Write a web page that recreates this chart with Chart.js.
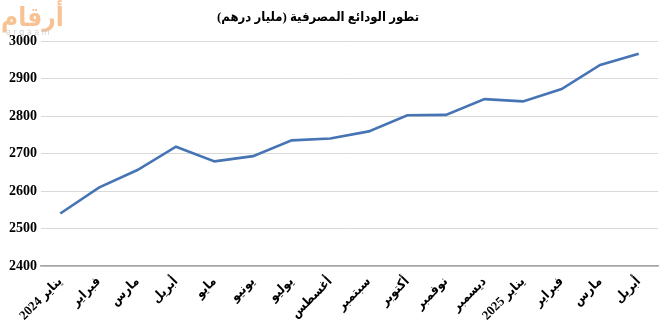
<!DOCTYPE html>
<html>
<head>
<meta charset="utf-8">
<script src="https://cdn.jsdelivr.net/npm/chart.js@4"></script>
<style>
  html, body { margin: 0; padding: 0; background: #fff; }
  #wrap { width: 665px; height: 322px; }
  canvas { direction: rtl; }
</style>
</head>
<body>
<div id="wrap"><canvas id="grafico"></canvas></div>
<script>
// --- Dados do gráfico ---
const titulo = 'تطور الودائع المصرفية (مليار درهم)';
const meses = ['يناير 2024', 'فبراير', 'مارس', 'أبريل', 'مايو', 'يونيو', 'يوليو', 'أغسطس',
  'سبتمبر', 'أكتوبر', 'نوفمبر', 'ديسمبر', 'يناير 2025', 'فبراير', 'مارس', 'أبريل'];
const depositos = [2540, 2609, 2656, 2718, 2679, 2693, 2735, 2740, 2759, 2802, 2803, 2845, 2839, 2872, 2936, 2966];
const eixoY = { min: 2400, max: 3000, passo: 100 };

const fonteSerif = "'Liberation Serif', 'DejaVu Sans Condensed', 'DejaVu Sans', serif";

// Título e logotipo desenhados direto no canvas
const pluginTextos = {
  id: 'textos',
  afterDraw(chart) {
    const ctx = chart.ctx;
    ctx.save();
    // logotipo
    ctx.globalAlpha = 0.55;
    ctx.fillStyle = '#f0923c';
    ctx.font = "bold 26px 'DejaVu Sans Condensed', 'DejaVu Sans', sans-serif";
    ctx.textAlign = 'left';
    ctx.textBaseline = 'alphabetic';
    ctx.fillText('أرقام', 1, 26);
    ctx.globalAlpha = 0.8;
    ctx.fillStyle = '#c8c8c8';
    ctx.font = "8px 'DejaVu Sans', sans-serif";
    ctx.fillText('a r g a a m', 6, 35);
    ctx.globalAlpha = 1;
    // título
    ctx.fillStyle = '#000';
    ctx.font = 'bold 13px ' + fonteSerif;
    ctx.textAlign = 'center';
    ctx.textBaseline = 'middle';
    ctx.fillText(titulo, 318, 18);
    ctx.restore();
  }
};

new Chart(document.getElementById('grafico'), {
  type: 'line',
  data: {
    labels: meses,
    datasets: [{
      data: depositos,
      borderColor: '#4674b4',
      borderWidth: 2.6,
      pointRadius: 0,
      tension: 0,
      fill: false
    }]
  },
  options: {
    responsive: true,
    maintainAspectRatio: false,
    animation: false,
    layout: { padding: { top: 41, right: 7, left: 0, bottom: 0 } },
    plugins: { legend: { display: false }, tooltip: { enabled: false } },
    scales: {
      x: {
        offset: true,
        grid: { display: false },
        border: { display: true, color: '#a6a6a6', width: 1.5 },
        ticks: {
          autoSkip: false,
          minRotation: 45,
          maxRotation: 45,
          padding: 0,
          color: '#000',
          font: { family: fonteSerif, size: 13, weight: 'bold' }
        },
        afterFit: s => { s.height = 56; }
      },
      y: {
        min: eixoY.min,
        max: eixoY.max,
        border: { display: false },
        grid: {
          drawTicks: false,
          color: c => c.tick && c.tick.value === eixoY.min ? '#a6a6a6' : '#d9d9d9',
          lineWidth: c => c.tick && c.tick.value === eixoY.min ? 1.5 : 1
        },
        ticks: {
          stepSize: eixoY.passo,
          padding: 4,
          color: '#000',
          font: { family: fonteSerif, size: 14, weight: 'bold' },
          callback: v => String(v)
        },
        afterFit: s => { s.width = 41; }
      }
    }
  },
  plugins: [pluginTextos]
});
</script>
</body>
</html>
